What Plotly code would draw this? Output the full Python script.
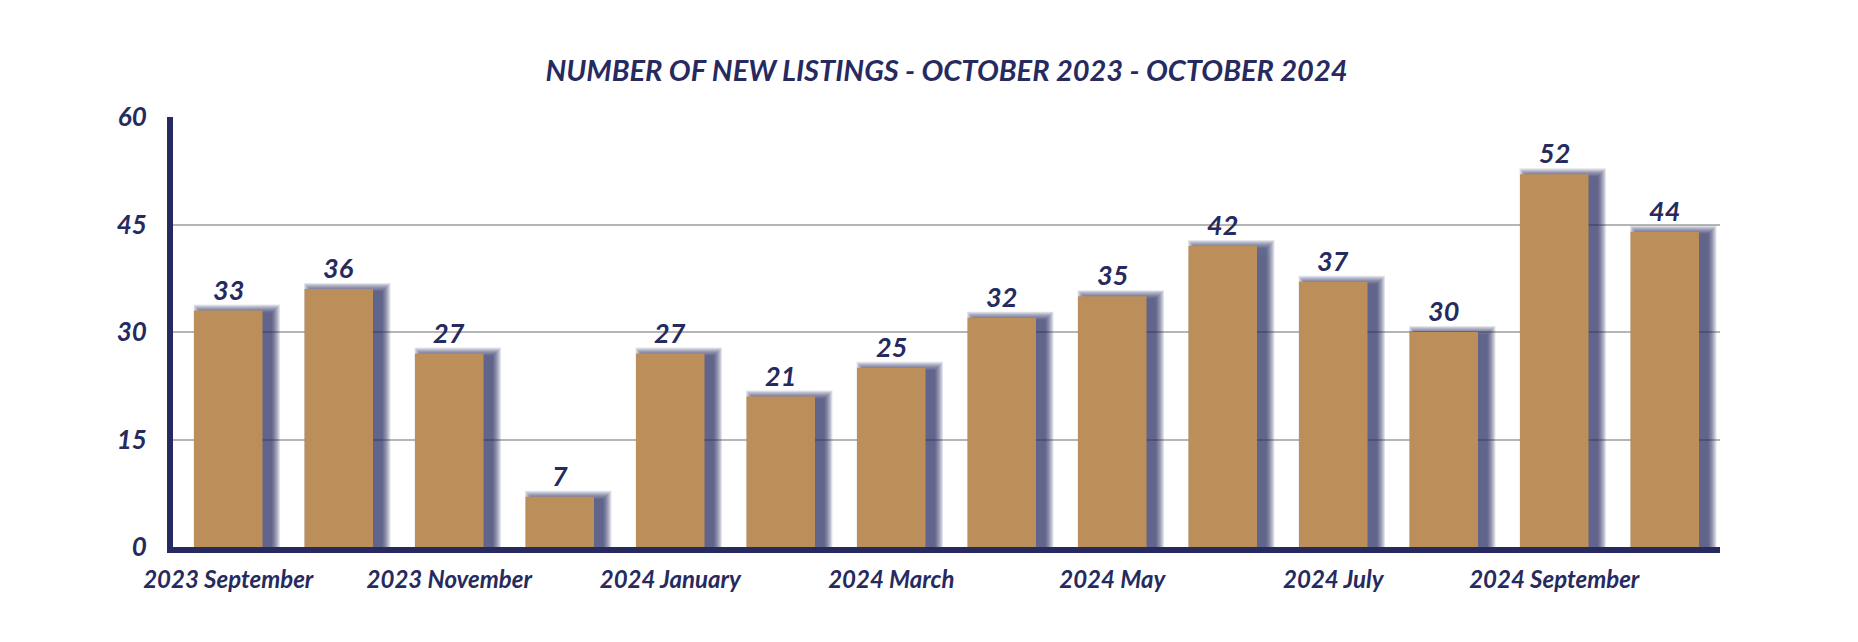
import plotly.graph_objects as go

months = ["2023 September", "2023 October", "2023 November", "2023 December",
          "2024 January", "2024 February", "2024 March", "2024 April",
          "2024 May", "2024 June", "2024 July", "2024 August",
          "2024 September", "2024 October"]
listings = [33, 36, 27, 7, 27, 21, 25, 32, 35, 42, 37, 30, 52, 44]
tick_months = ["2023 September", "2023 November", "2024 January", "2024 March",
               "2024 May", "2024 July", "2024 September"]
y_ticks = [0, 15, 30, 45, 60]
title_text = "NUMBER OF NEW LISTINGS - OCTOBER 2023 - OCTOBER 2024"

NAVY = "#262A5E"
TAN = "#BC8F5A"
FONT = "Lato"
BAR_W = 0.62

fig = go.Figure()

# soft shadow: stacked translucent bars offset to the right
px_x = 1 / 110.6   # category units per pixel
px_y = 60 / 430    # value units per pixel
shift = 8.5 * px_x
layers = 10
for i in range(layers):
    grow = (layers - i) * 0.9  # pixels of spread
    fig.add_trace(go.Bar(
        x=months,
        y=[v + (grow - 3.0) * px_y for v in listings],
        width=BAR_W + 2 * grow * px_x,
        offset=-BAR_W / 2 + shift - grow * px_x,
        marker=dict(color=NAVY, line=dict(width=0)),
        opacity=0.115,
        hoverinfo="skip",
        showlegend=False,
    ))

fig.add_trace(go.Bar(
    x=months, y=listings, width=BAR_W, offset=-BAR_W / 2,
    marker=dict(color=TAN, line=dict(width=0)),
    showlegend=False,
))

for m, v in zip(months, listings):
    fig.add_annotation(
        x=m, y=v, text=str(v), showarrow=False, yanchor="bottom", yshift=3,
        font=dict(family=FONT, size=27, color=NAVY, weight="bold", style="italic"),
    )

# page body has an 8px margin, so the figure is drawn 16px smaller
fig.update_layout(
    width=1842, height=626,
    barmode="overlay",
    paper_bgcolor="white", plot_bgcolor="white",
    margin=dict(l=165, r=130, t=109, b=87),
    title=dict(
        text=title_text, x=0.5, xref="paper", xanchor="center",
        y=1 - 63 / 626, yanchor="middle",
        font=dict(family=FONT, size=29, color=NAVY, weight="bold", style="italic"),
    ),
    xaxis=dict(
        categoryorder="array", categoryarray=months,
        tickmode="array", tickvals=tick_months, ticktext=tick_months,
        showline=True, linecolor=NAVY, linewidth=6,
        showgrid=False, ticks="", ticklabelstandoff=6,
        tickfont=dict(family=FONT, size=24, color=NAVY, weight="bold", style="italic"),
    ),
    yaxis=dict(
        range=[0, 60], tickvals=y_ticks,
        showline=True, linecolor=NAVY, linewidth=6,
        showgrid=True, gridcolor="#B5B5B5", gridwidth=2,
        zeroline=False, ticks="", ticklabelstandoff=15,
        tickfont=dict(family=FONT, size=26, color=NAVY, weight="bold", style="italic"),
    ),
)

fig.write_html("out.html")
